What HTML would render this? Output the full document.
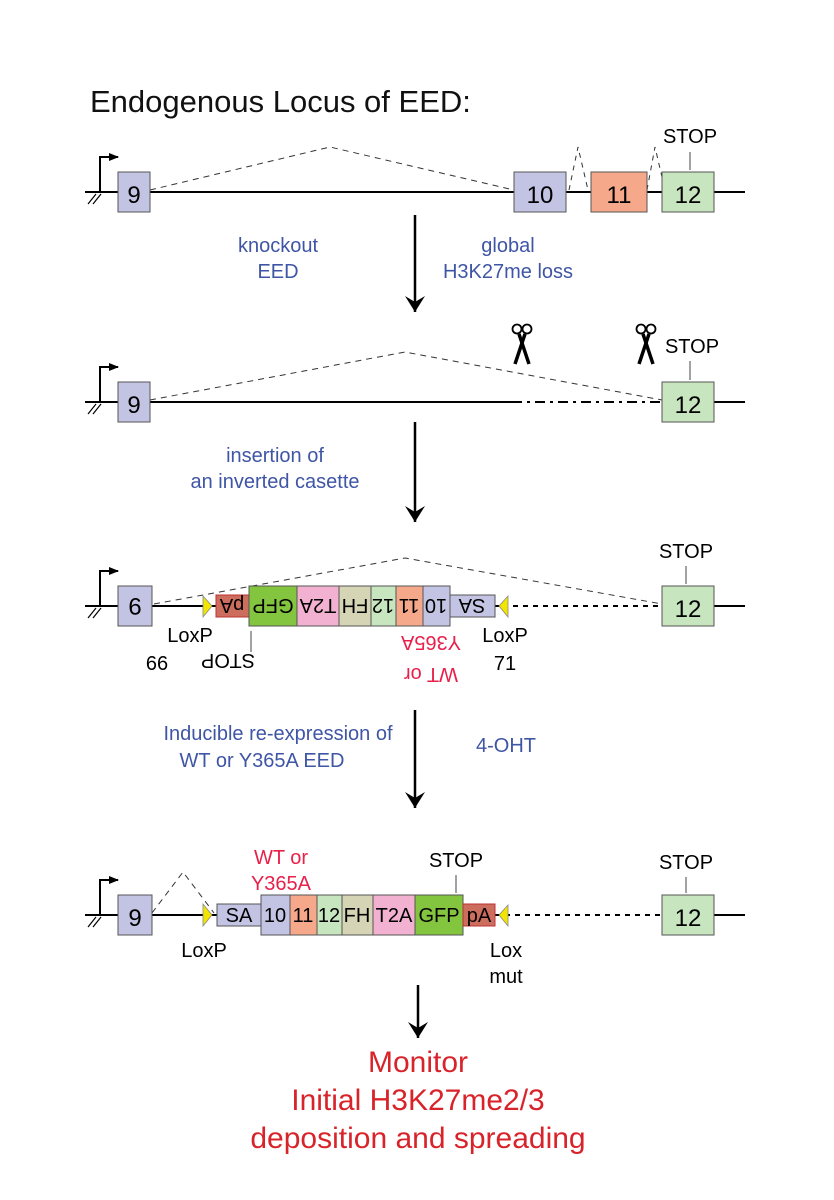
<!DOCTYPE html>
<html><head><meta charset="utf-8"><style>
html,body{margin:0;padding:0;background:#fff;}
svg{display:block;}
text{font-family:"Liberation Sans",Arial,sans-serif;}
</style></head><body>
<svg width="834" height="1200" viewBox="0 0 834 1200" xmlns="http://www.w3.org/2000/svg">
<defs>
<marker id="ah" markerWidth="10" markerHeight="10" refX="9" refY="5" orient="auto" markerUnits="userSpaceOnUse"><path d="M0,1 L10,5 L0,9 Z" fill="#000"/></marker>
<marker id="bigah" markerWidth="22" markerHeight="20" refX="11" refY="18" orient="0" markerUnits="userSpaceOnUse"><path d="M1,2 L11,18 L21,2 L11,8 Z" fill="#000"/></marker>
<g id="prom"><path d="M100,0 V-35 H118" fill="none" stroke="#000" stroke-width="2" marker-end="url(#ah)"/><line x1="88" y1="12" x2="96" y2="2" stroke="#000" stroke-width="1.2"/><line x1="93" y1="12" x2="101" y2="2" stroke="#000" stroke-width="1.2"/></g>
<g id="sc"><circle cx="-5" cy="5" r="4.5" fill="none" stroke="#000" stroke-width="1.8"/><circle cx="5" cy="5" r="4.5" fill="none" stroke="#000" stroke-width="1.8"/><path d="M-3,10 L7,40" stroke="#000" stroke-width="3.5"/><path d="M3,10 L-7,40" stroke="#000" stroke-width="3.5"/></g>
</defs>

<text x="90" y="112" font-size="31" fill="#111">Endogenous Locus of EED:</text>

<!-- Row 1 -->
<line x1="85" y1="192" x2="745" y2="192" stroke="#000" stroke-width="2"/>
<use href="#prom" transform="translate(0,192)"/>
<polyline points="150,190 330,147 514,190" fill="none" stroke="#333" stroke-width="1" stroke-dasharray="6,5"/>
<polyline points="569,190 578,147 588,190" fill="none" stroke="#333" stroke-width="1" stroke-dasharray="5,5"/>
<polyline points="647,190 655,147 665,190" fill="none" stroke="#333" stroke-width="1" stroke-dasharray="5,5"/>
<rect x="118" y="172" width="32" height="40" fill="#c3c3e3" stroke="#555"/>
<text x="134" y="203" font-size="24" text-anchor="middle">9</text>
<rect x="514" y="172" width="52" height="40" fill="#c3c3e3" stroke="#555"/>
<text x="540" y="203" font-size="24" text-anchor="middle">10</text>
<rect x="591" y="172" width="56" height="40" fill="#f5a98a" stroke="#555"/>
<text x="619" y="203" font-size="24" text-anchor="middle">11</text>
<rect x="662" y="172" width="52" height="40" fill="#c7e5bf" stroke="#555"/>
<text x="688" y="203" font-size="24" text-anchor="middle">12</text>
<text x="690" y="143" font-size="20" text-anchor="middle">STOP</text>
<line x1="690" y1="152" x2="690" y2="170" stroke="#444" stroke-width="1"/>

<line x1="415" y1="215" x2="415" y2="312" stroke="#000" stroke-width="2.5" marker-end="url(#bigah)"/>
<text x="278" y="252" font-size="20" fill="#3f55a5" text-anchor="middle">knockout</text>
<text x="278" y="278" font-size="20" fill="#3f55a5" text-anchor="middle">EED</text>
<text x="508" y="252" font-size="20" fill="#3f55a5" text-anchor="middle">global</text>
<text x="508" y="278" font-size="20" fill="#3f55a5" text-anchor="middle">H3K27me loss</text>

<!-- Row 2 -->
<line x1="85" y1="402" x2="512" y2="402" stroke="#000" stroke-width="2"/>
<line x1="512" y1="402" x2="662" y2="402" stroke="#000" stroke-width="2" stroke-dasharray="10,5,3,5"/>
<line x1="714" y1="402" x2="745" y2="402" stroke="#000" stroke-width="2"/>
<use href="#prom" transform="translate(0,402)"/>
<polyline points="150,400 405,352 662,400" fill="none" stroke="#333" stroke-width="1" stroke-dasharray="6,5"/>
<rect x="118" y="382" width="32" height="40" fill="#c3c3e3" stroke="#555"/>
<text x="134" y="413" font-size="24" text-anchor="middle">9</text>
<rect x="662" y="382" width="52" height="40" fill="#c7e5bf" stroke="#555"/>
<text x="688" y="413" font-size="24" text-anchor="middle">12</text>
<use href="#sc" transform="translate(522,324)"/>
<use href="#sc" transform="translate(646,324)"/>
<text x="692" y="353" font-size="20" text-anchor="middle">STOP</text>
<line x1="690" y1="361" x2="690" y2="380" stroke="#444" stroke-width="1"/>

<line x1="415" y1="422" x2="415" y2="522" stroke="#000" stroke-width="2.5" marker-end="url(#bigah)"/>
<text x="275" y="462" font-size="20" fill="#3f55a5" text-anchor="middle">insertion of</text>
<text x="275" y="488" font-size="20" fill="#3f55a5" text-anchor="middle">an inverted casette</text>

<!-- Row 3 -->
<line x1="85" y1="606" x2="503" y2="606" stroke="#000" stroke-width="2"/>
<line x1="503" y1="606" x2="662" y2="606" stroke="#000" stroke-width="2" stroke-dasharray="5,5"/>
<line x1="714" y1="606" x2="745" y2="606" stroke="#000" stroke-width="2"/>
<use href="#prom" transform="translate(0,606)"/>
<polyline points="154,604 405,558 662,604" fill="none" stroke="#333" stroke-width="1" stroke-dasharray="6,5"/>
<rect x="118" y="586" width="34" height="40" fill="#c3c3e3" stroke="#555"/>
<text x="135" y="615" font-size="24" text-anchor="middle" transform="rotate(180 135 606.5)">9</text>
<path d="M203,596 L212,606 L203,617 Z" fill="#f2e500" stroke="#888" stroke-width="0.8"/>
<rect x="216" y="595" width="33" height="22" fill="#cc6d5e" stroke="#b33"/>
<rect x="249" y="586" width="48" height="40" fill="#84c540" stroke="#555"/>
<rect x="297" y="586" width="42" height="40" fill="#f2b1d0" stroke="#555"/>
<rect x="339" y="586" width="32" height="40" fill="#d5d4b5" stroke="#555"/>
<rect x="371" y="586" width="25" height="40" fill="#c7e5bf" stroke="#555"/>
<rect x="396" y="586" width="27" height="40" fill="#f5a98a" stroke="#555"/>
<rect x="423" y="586" width="27" height="40" fill="#c3c3e3" stroke="#555"/>
<rect x="450" y="595" width="45" height="22" fill="#c3c3e3" stroke="#555"/>
<path d="M508,596 L499,606 L508,617 Z" fill="#f2e500" stroke="#888" stroke-width="0.8"/>
<g font-size="20" text-anchor="middle">
<text x="232" y="613" transform="rotate(180 232 606)">pA</text>
<text x="273" y="613" transform="rotate(180 273 606)">GFP</text>
<text x="318" y="613" transform="rotate(180 318 606)">T2A</text>
<text x="355" y="613" transform="rotate(180 355 606)">FH</text>
<text x="383" y="613" transform="rotate(180 383 606)">12</text>
<text x="409" y="613" transform="rotate(180 409 606)">11</text>
<text x="436" y="613" transform="rotate(180 436 606)">10</text>
<text x="472" y="613" transform="rotate(180 472 606)">SA</text>
</g>
<rect x="662" y="586" width="52" height="40" fill="#c7e5bf" stroke="#555"/>
<text x="688" y="617" font-size="24" text-anchor="middle">12</text>
<text x="686" y="558" font-size="20" text-anchor="middle">STOP</text>
<line x1="686" y1="566" x2="686" y2="584" stroke="#444" stroke-width="1"/>
<text x="190" y="642" font-size="20" text-anchor="middle">LoxP</text>
<text x="157" y="670" font-size="20" text-anchor="middle">66</text>
<line x1="251" y1="631" x2="251" y2="652" stroke="#444" stroke-width="1"/>
<text x="228" y="668" font-size="20" text-anchor="middle" transform="rotate(180 228 661)">STOP</text>
<text x="431" y="650" font-size="20" fill="#e8204a" text-anchor="middle" transform="rotate(180 431 643)">Y365A</text>
<text x="431" y="682" font-size="20" fill="#e8204a" text-anchor="middle" transform="rotate(180 431 675)">WT or</text>
<text x="505" y="642" font-size="20" text-anchor="middle">LoxP</text>
<text x="505" y="670" font-size="20" text-anchor="middle">71</text>

<line x1="415" y1="710" x2="415" y2="808" stroke="#000" stroke-width="2.5" marker-end="url(#bigah)"/>
<text x="278" y="740" font-size="20" fill="#3f55a5" text-anchor="middle">Inducible re-expression of</text>
<text x="262" y="767" font-size="20" fill="#3f55a5" text-anchor="middle">WT or Y365A EED</text>
<text x="506" y="752" font-size="20" fill="#3f55a5" text-anchor="middle">4-OHT</text>

<!-- Row 4 -->
<line x1="85" y1="915" x2="505" y2="915" stroke="#000" stroke-width="2"/>
<line x1="505" y1="915" x2="662" y2="915" stroke="#000" stroke-width="2" stroke-dasharray="5,5"/>
<line x1="714" y1="915" x2="745" y2="915" stroke="#000" stroke-width="2"/>
<use href="#prom" transform="translate(0,915)"/>
<polyline points="152,913 183,872 214,913" fill="none" stroke="#333" stroke-width="1" stroke-dasharray="6,5"/>
<rect x="118" y="895" width="34" height="40" fill="#c3c3e3" stroke="#555"/>
<text x="135" y="926" font-size="24" text-anchor="middle">9</text>
<path d="M203,904 L212,915 L203,926 Z" fill="#f2e500" stroke="#888" stroke-width="0.8"/>
<rect x="217" y="904" width="44" height="22" fill="#c3c3e3" stroke="#555"/>
<rect x="261" y="895" width="29" height="40" fill="#c3c3e3" stroke="#555"/>
<rect x="290" y="895" width="27" height="40" fill="#f5a98a" stroke="#555"/>
<rect x="317" y="895" width="25" height="40" fill="#c7e5bf" stroke="#555"/>
<rect x="342" y="895" width="31" height="40" fill="#d5d4b5" stroke="#555"/>
<rect x="373" y="895" width="42" height="40" fill="#f2b1d0" stroke="#555"/>
<rect x="415" y="895" width="48" height="40" fill="#84c540" stroke="#555"/>
<rect x="463" y="904" width="32" height="22" fill="#cc6d5e" stroke="#b33"/>
<path d="M508,905 L499,915 L508,926 Z" fill="#f2e500" stroke="#888" stroke-width="0.8"/>
<g font-size="20" text-anchor="middle">
<text x="239" y="922">SA</text>
<text x="275" y="922">10</text>
<text x="303" y="922">11</text>
<text x="329" y="922">12</text>
<text x="357" y="922">FH</text>
<text x="394" y="922">T2A</text>
<text x="439" y="922">GFP</text>
<text x="479" y="922">pA</text>
</g>
<rect x="662" y="895" width="52" height="40" fill="#c7e5bf" stroke="#555"/>
<text x="688" y="926" font-size="24" text-anchor="middle">12</text>
<text x="686" y="869" font-size="20" text-anchor="middle">STOP</text>
<line x1="686" y1="877" x2="686" y2="893" stroke="#444" stroke-width="1"/>
<text x="456" y="867" font-size="20" text-anchor="middle">STOP</text>
<line x1="456" y1="875" x2="456" y2="893" stroke="#444" stroke-width="1"/>
<text x="281" y="864" font-size="20" fill="#e8204a" text-anchor="middle">WT or</text>
<text x="281" y="890" font-size="20" fill="#e8204a" text-anchor="middle">Y365A</text>
<text x="204" y="957" font-size="20" text-anchor="middle">LoxP</text>
<text x="506" y="957" font-size="20" text-anchor="middle">Lox</text>
<text x="506" y="983" font-size="20" text-anchor="middle">mut</text>

<line x1="418" y1="985" x2="418" y2="1038" stroke="#000" stroke-width="2.5" marker-end="url(#bigah)"/>
<g font-size="30" fill="#d9232a" text-anchor="middle">
<text x="418" y="1072">Monitor</text>
<text x="418" y="1110">Initial H3K27me2/3</text>
<text x="418" y="1148">deposition and spreading</text>
</g>
</svg>
</body></html>
